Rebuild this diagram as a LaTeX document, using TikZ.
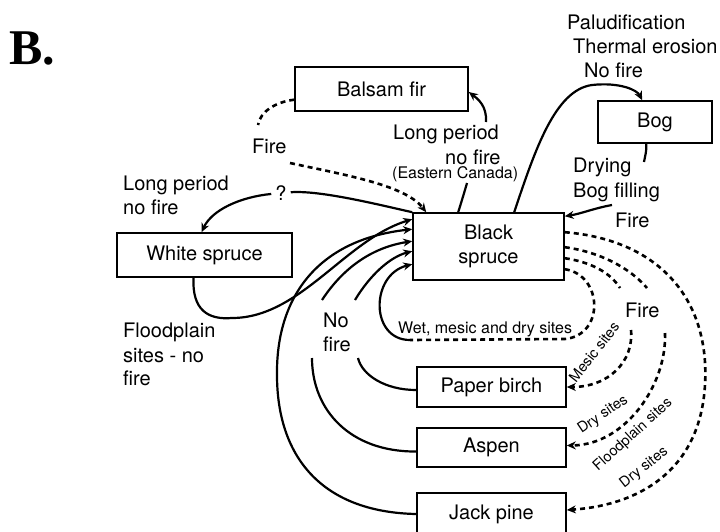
\documentclass[tikz,border=0pt]{standalone}
\usepackage{fontspec}
\setmainfont{TeX Gyre Heros}
\newfontfamily\serifbold{Liberation Serif}
\usetikzlibrary{arrows.meta,calc}

\begin{document}
\begin{tikzpicture}[x=1pt,y=-1pt,
		box/.style={draw,line width=1.6pt,inner sep=0pt,align=center,font=\fontsize{20}{24.5}\selectfont},
		lbl/.style={anchor=base west,inner sep=0pt,font=\fontsize{20}{24}\selectfont},
		sml/.style={anchor=base west,inner sep=0pt,font=\fontsize{16}{18}\selectfont},
		tilt/.style={inner sep=0pt,font=\fontsize{14.5}{17}\selectfont},
		nofire/.style={line width=2.2pt,-{Stealth[length=9pt,width=8pt]}},
		fire/.style={line width=2.6pt,dash pattern=on 5pt off 4pt,-{Stealth[length=9pt,width=8pt]}}]
	\useasboundingbox (0,0) rectangle (720,531);
	\clip (0,0) rectangle (720,531);

	\node[anchor=base west,inner sep=0pt,font=\serifbold\bfseries\fontsize{50}{50}\selectfont] (B) at (9,64) {B.};

	\node[box,minimum width=175pt,minimum height=44pt] (ws) at (204.5,255) {White spruce};
	\node[box,minimum width=173pt,minimum height=44pt] (bf) at (381.5,89) {Balsam fir};
	\node[box,minimum width=151pt,minimum height=67pt] (bs) at (488.5,246.5) {Black\\spruce};
	\node[box,minimum width=114pt,minimum height=42pt] (bog) at (655,122) {Bog};
	\node[box,minimum width=149pt,minimum height=40pt] (pb) at (491.5,387) {Paper birch};
	\node[box,minimum width=149pt,minimum height=39pt] (asp) at (491.5,447.5) {Aspen};
	\node[box,minimum width=149pt,minimum height=42pt] (jp) at (491.5,514) {Jack pine};

	\node[lbl] (pal) at (567,29) {Paludification};
	\node[lbl] (therm) at (573,53) {Thermal erosion};
	\node[lbl] (nf1) at (584,77) {No fire};
	\node[lbl] (lp1) at (393,139) {Long period};
	\node[lbl] (nf2) at (445,164) {no fire};
	\node[sml] (ec) at (392,178) {(Eastern Canada)};
	\node[lbl] (dry) at (573,172) {Drying};
	\node[lbl] (bfill) at (573,197) {Bog filling};
	\node[lbl] (fire1) at (615,227) {Fire};
	\node[lbl] (fire2) at (252,153) {Fire};
	\node[lbl] (lp2) at (123,190) {Long period};
	\node[lbl] (nf3) at (123,214) {no fire};
	\node[inner sep=4pt,font=\fontsize{20}{24}\selectfont] (q) at (281,193) {?};
	\node[lbl] (fp1) at (123,337) {Floodplain};
	\node[lbl] (fp2) at (123,362) {sites - no};
	\node[lbl] (fp3) at (123,385) {fire};
	\node[lbl] (nf4) at (323,327) {No};
	\node[lbl] (nf5) at (323,351) {fire};
	\node[sml] (wet) at (398,333) {Wet, mesic and dry sites};
	\node[lbl] (fire3) at (625,317) {Fire};
	\node[tilt,rotate=52] (mes) at (594,352) {Mesic sites};
	\node[tilt,rotate=34] (dry1) at (603,415) {Dry sites};
	\node[tilt,rotate=42] (flood) at (633,435) {Floodplain sites};
	\node[tilt,rotate=38] (dry2) at (644,468) {Dry sites};

	\coordinate (fa) at (258,125);
	\coordinate (fb) at (290,163);
	\coordinate (la) at (467,183);
	\coordinate (lb) at (486,122);
	\coordinate (ga) at (644,162);
	\coordinate (gb) at (612,205);
	\coordinate (aa) at (312,358);
	\coordinate (ab) at (322,300);
	\coordinate (pa) at (358,358);
	\coordinate (pbb) at (355,300);
	\coordinate (loop) at (410,340);
	\coordinate (ka) at (647,288);
	\coordinate (kb) at (665,333);
	\coordinate (ma) at (620,288);
	\coordinate (mb) at (631,330);

	\draw[fire,-] (bf.187) .. controls (275,102) and (260,112) .. (fa);
	\draw[fire] (fb) .. controls (345,175) and (405,185) .. ($(bs.north west)+(14,0)$);
	\draw[nofire,-] ($(bs.north west)+(46,0)$) .. controls (462,200) and (465,190) .. (la);
	\draw[nofire] (lb) .. controls (487,106) and (478,99) .. ($(bf.east)+(0,3)$);
	\draw[nofire] ($(bs.north west)+(102,0)$) .. controls (535,150) and (555,90) .. (592,85) .. controls (620,82) and (637,90) .. ($(bog.north west)+(45,0)$);
	\draw[nofire,-] ($(bog.south west)+(49,0)$) .. controls (647,150) and (645,156) .. (ga);
	\draw[nofire] (gb) .. controls (595,208) and (580,214) .. ($(bs.north east)+(0,4)$);
	\draw[nofire,-] (bs.north west) .. controls (380,205) and (320,190) .. (q);
	\draw[nofire] (q) .. controls (240,197) and (212,210) .. ($(ws.north)+(-3,0)$);
	\draw[nofire] ($(ws.south)+(-11,0)$) .. controls (192,310) and (208,320) .. (232,318) .. controls (300,318) and (345,240) .. ($(bs.north west)+(0,7)$);
	\draw[nofire] (jp.west) .. controls (320,512) and (277,455) .. (277,375) .. controls (276,300) and (315,240) .. ($(bs.north west)+(0,17)$);
	\draw[nofire,-] ($(asp.west)+(0,4)$) .. controls (350,452) and (312,410) .. (aa);
	\draw[nofire] (ab) .. controls (345,265) and (375,247) .. ($(bs.north west)+(0,29)$);
	\draw[nofire,-] ($(pb.west)+(0,3)$) .. controls (385,390) and (362,375) .. (pa);
	\draw[nofire] (pbb) .. controls (370,275) and (390,257) .. ($(bs.north west)+(0,39)$);
	\draw[fire,-] ($(bs.north east)+(0,57)$) .. controls (603,275) and (605,335) .. (565,339) -- (loop);
	\draw[nofire] (loop) .. controls (370,340) and (370,275) .. ($(bs.north west)+(0,52)$);
	\draw[fire] ($(bs.north east)+(0,20)$) .. controls (660,240) and (710,300) .. (705,385) .. controls (700,470) and (640,505) .. ($(jp.east)+(0,-4)$);
	\draw[fire,-] ($(bs.north east)+(0,35)$) .. controls (600,252) and (630,268) .. (ka);
	\draw[fire] (kb) .. controls (667,385) and (625,445) .. ($(asp.east)+(0,-2)$);
	\draw[fire,-] ($(bs.north east)+(0,46)$) .. controls (590,262) and (610,272) .. (ma);
	\draw[fire] (mb) .. controls (634,362) and (608,387) .. (pb.east);
\end{tikzpicture}
\end{document}
